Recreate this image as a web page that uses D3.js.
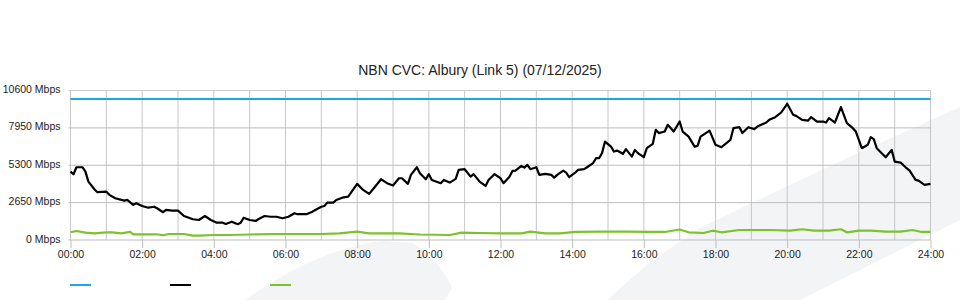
<!DOCTYPE html>
<html>
<head>
<meta charset="utf-8">
<script src="https://cdn.jsdelivr.net/npm/d3@7/dist/d3.min.js"></script>
<style>
  body { margin: 0; background: #fff; }
  svg text { font-family: "Liberation Sans", Arial, sans-serif; fill: #222; }
</style>
</head>
<body>
<div id="chart"></div>
<script>
// Datos
const title = "NBN CVC: Albury (Link 5) (07/12/2025)";
const yTicks = [0, 2650, 5300, 7950, 10600];
const xTickLabels = ["00:00", "02:00", "04:00", "06:00", "08:00", "10:00", "12:00",
                     "14:00", "16:00", "18:00", "20:00", "22:00", "24:00"];

// capacidad del enlace (azul)
const capacityTimes = ["00:00", "24:00"];
const capacityMbps = [10000, 10000];

// trafico de bajada (negro)
const trafficTimes = [
  "00:00","00:05","00:10","00:20","00:25","00:30","00:40","00:45","01:00","01:05",
  "01:15","01:30","01:35","01:45","01:50","02:00","02:10","02:20","02:25","02:35",
  "02:40","02:50","03:00","03:10","03:25","03:35","03:45","03:55","04:05","04:15",
  "04:20","04:30","04:40","04:45","04:50","05:00","05:10","05:15","05:25","05:35",
  "05:45","05:55","06:05","06:15","06:20","06:35","06:45","06:50","07:00","07:05",
  "07:10","07:20","07:25","07:35","07:45","07:55","08:00","08:10","08:20","08:30",
  "08:40","08:50","09:00","09:10","09:15","09:25","09:30","09:40","09:45","09:55",
  "10:00","10:05","10:20","10:25","10:35","10:45","10:50","11:00","11:10","11:15",
  "11:25","11:35","11:40","11:50","12:00","12:05","12:15","12:20","12:25","12:35",
  "12:40","12:45","12:50","13:00","13:05","13:15","13:25","13:30","13:35","13:45",
  "13:50","13:55","14:05","14:10","14:20","14:25","14:35","14:40","14:45","14:50",
  "14:55","15:05","15:10","15:15","15:25","15:30","15:40","15:45","15:50","16:00",
  "16:05","16:15","16:20","16:25","16:35","16:40","16:50","17:00","17:05","17:15",
  "17:25","17:30","17:35","17:50","18:00","18:10","18:25","18:30","18:40","18:45",
  "18:55","19:05","19:10","19:25","19:30","19:40","19:50","20:00","20:10","20:15",
  "20:25","20:35","20:40","20:50","21:00","21:05","21:10","21:20","21:30","21:40",
  "21:50","21:55","22:05","22:15","22:20","22:25","22:30","22:45","22:55","23:00",
  "23:10","23:20","23:25","23:35","23:40","23:50","24:00"
];
const trafficMbps = [
  4850,4660,5160,5160,4850,4140,3600,3390,3430,3200,
  2960,2790,2840,2490,2610,2410,2290,2360,2250,1970,
  2130,2080,2080,1700,1470,1420,1700,1420,1230,1230,
  1140,1300,1120,1230,1580,1420,1350,1490,1700,1650,
  1650,1540,1650,1900,1830,1830,2010,2130,2360,2410,
  2650,2650,2840,3000,3070,3670,3980,3550,3270,3780,
  4310,4030,3860,4380,4380,3980,4620,5160,4740,4310,
  4670,4260,4030,4260,4070,4330,4970,5020,4490,4670,
  4140,3830,4260,4670,4380,4030,4490,4900,4920,5250,
  5130,5330,5020,5160,4620,4690,4620,4420,4620,4920,
  4780,4450,4780,4970,5020,5160,5450,5800,5800,6160,
  6980,6620,6270,6340,6110,6440,5910,6390,6160,5870,
  6510,6820,7810,7580,7690,8170,7690,8400,7690,7330,
  6620,6670,7330,7760,6750,6580,7100,7930,8000,7580,
  8000,7860,8040,8330,8520,8710,9040,9660,8880,8800,
  8520,8470,8710,8400,8400,8330,8640,8330,9420,8290,
  7930,7690,6510,6750,7290,7150,6510,5870,6390,5560,
  5490,5090,4920,4260,4210,3910,3980
];

// trafico de subida (verde)
const uploadTimes = [
  "00:00","00:10","00:25","00:40","01:00","01:10","01:25","01:40","01:45","02:25",
  "02:35","02:45","03:10","03:25","03:35","04:00","04:25","05:00","05:50","07:00",
  "07:30","08:00","08:20","09:10","09:45","10:35","10:55","11:25","12:00","12:35",
  "12:50","13:15","13:40","14:05","14:45","15:30","16:10","16:35","17:00","17:15",
  "17:40","17:55","18:10","18:40","19:30","20:05","20:25","20:45","21:10","21:30",
  "21:40","22:00","22:20","22:45","23:10","23:30","23:45","24:00"
];
const uploadMbps = [
  547,640,520,475,547,547,475,570,405,405,
  334,426,426,305,305,355,355,390,426,426,
  475,590,475,475,390,355,520,497,475,475,
  590,475,475,570,590,590,570,570,745,547,
  497,660,547,710,710,660,760,660,660,760,
  547,660,660,590,590,710,570,570
];

const seriesColors = ["#1ca6e2", "#000000", "#7cc22a"];
const seriesWidths = [2, 2.2, 2.2];

// Dimensiones
const width = 960;
const height = 300;

const svg = d3.select("#chart")
    .append("svg")
    .attr("width", width)
    .attr("height", height);

// Marca de agua de fondo
const watermark = svg.append("g").attr("fill", "#f3f4f6");
watermark.append("path")
    .attr("d", "M245,300 C280,275 330,247 383,241 L413,243 C430,255 445,270 452,288 L445,300 Z");
watermark.append("path")
    .attr("d", "M607,300 L650,262 L700,228 L760,199 L860,152 L960,107 L960,220 L800,300 Z");

function toMinutes(t) {
    const [h, m] = t.split(":").map(Number);
    return h * 60 + m;
}

// Escalas
const x = d3.scaleLinear()
    .domain([0, 1440])
    .range([70.5, 930.5]);

const y = d3.scaleLinear()
    .domain([0, 10600])
    .range([240, 90.5]);

// Rejilla vertical (cada hora)
svg.append("g")
    .selectAll("line")
    .data(d3.range(0, 1441, 60))
    .enter()
    .append("line")
    .attr("x1", d => x(d))
    .attr("x2", d => x(d))
    .attr("y1", y(10600))
    .attr("y2", y(0))
    .style("stroke", "#c6c6c6")
    .style("stroke-width", 1);

// Rejilla horizontal
svg.append("g")
    .selectAll("line")
    .data(yTicks)
    .enter()
    .append("line")
    .attr("x1", x(0) - 2)
    .attr("x2", x(1440))
    .attr("y1", d => y(d))
    .attr("y2", d => y(d))
    .style("stroke", d => d === 10600 ? "#cccccc" : "#bdbdbd")
    .style("stroke-width", 1);

// Eje X
const xAxis = svg.append("g")
    .attr("transform", `translate(0,${y(0)})`)
    .call(d3.axisBottom(x)
        .tickValues(xTickLabels.map(toMinutes))
        .tickFormat((d, i) => xTickLabels[i])
        .tickSize(8)
        .tickPadding(3));
xAxis.select(".domain").remove();
xAxis.selectAll(".tick line").style("stroke", "#bdbdbd");
xAxis.selectAll("text").style("font-size", "10.5px");

// Eje Y
const yAxis = svg.append("g")
    .attr("transform", `translate(${x(0)},0)`)
    .call(d3.axisLeft(y)
        .tickValues(yTicks)
        .tickFormat(d => d + " Mbps")
        .tickSize(0)
        .tickPadding(10));
yAxis.select(".domain").remove();
yAxis.selectAll("text").style("font-size", "10.5px").attr("dy", "0.2em");

// Lineas
const line = d3.line()
    .x(d => x(toMinutes(d.t)))
    .y(d => y(d.v));

const series = [
    capacityTimes.map((t, i) => ({t: t, v: capacityMbps[i]})),
    trafficTimes.map((t, i) => ({t: t, v: trafficMbps[i]})),
    uploadTimes.map((t, i) => ({t: t, v: uploadMbps[i]}))
];

series.forEach((serie, i) => {
    svg.append("path")
        .datum(serie)
        .attr("d", line)
        .attr("fill", "none")
        .attr("stroke", seriesColors[i])
        .attr("stroke-width", seriesWidths[i])
        .attr("stroke-linejoin", "round");
});

// Titulo
svg.append("text")
    .attr("x", 480)
    .attr("y", 75)
    .attr("text-anchor", "middle")
    .style("font-size", "14px")
    .text(title);

// Leyenda (solo las muestras de color)
svg.append("g")
    .selectAll("line")
    .data(seriesColors)
    .enter()
    .append("line")
    .attr("x1", (d, i) => 70 + i * 100)
    .attr("x2", (d, i) => 91 + i * 100)
    .attr("y1", 285)
    .attr("y2", 285)
    .style("stroke", d => d)
    .style("stroke-width", 2);
</script>
</body>
</html>
